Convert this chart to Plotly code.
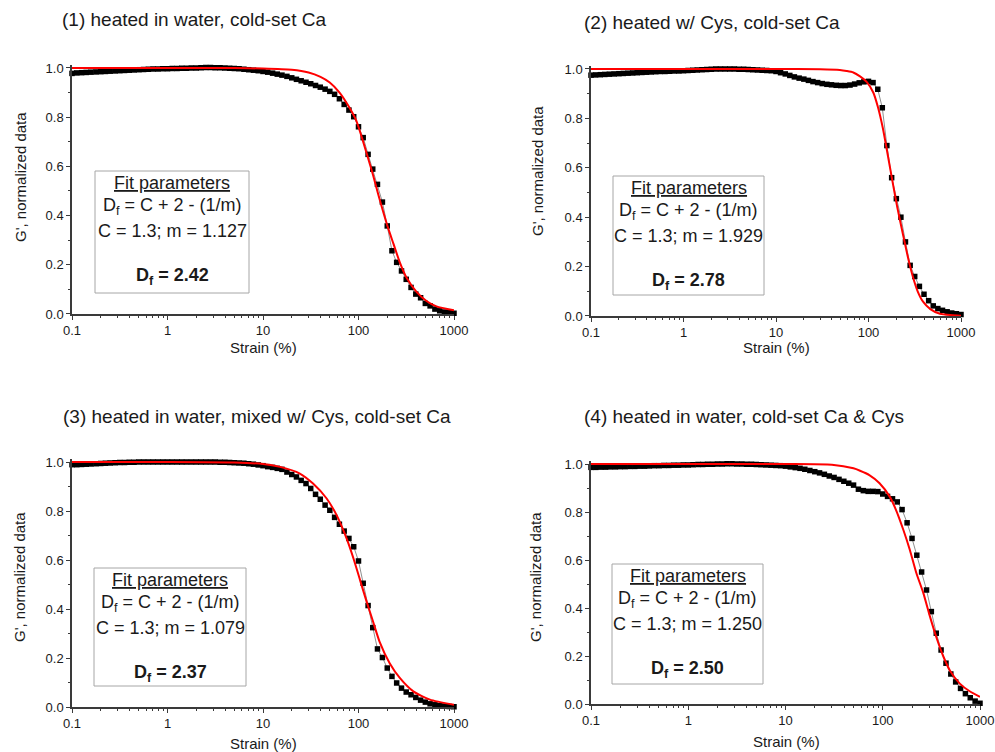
import plotly.graph_objects as go

# ---------------- data ----------------
# strain sweep points (%), 20 points per decade, shared by all four samples
strain = [
    0.1, 0.112, 0.126, 0.141, 0.158, 0.178, 0.2, 0.224, 0.251, 0.282,
    0.316, 0.355, 0.398, 0.447, 0.501, 0.562, 0.631, 0.708, 0.794, 0.891,
    1, 1.12, 1.26, 1.41, 1.58, 1.78, 2, 2.24, 2.51, 2.82,
    3.16, 3.55, 3.98, 4.47, 5.01, 5.62, 6.31, 7.08, 7.94, 8.91,
    10, 11.2, 12.6, 14.1, 15.8, 17.8, 20, 22.4, 25.1, 28.2,
    31.6, 35.5, 39.8, 44.7, 50.1, 56.2, 63.1, 70.8, 79.4, 89.1,
    100, 112, 126, 141, 158, 178, 200, 224, 251, 282,
    316, 355, 398, 447, 501, 562, 631, 708, 794, 891, 1000,
]

# normalized G' for each sample
g_water_ca = [
    0.978, 0.980, 0.981, 0.982, 0.983, 0.984, 0.985, 0.986, 0.987, 0.988,
    0.989, 0.990, 0.991, 0.992, 0.993, 0.994, 0.995, 0.996, 0.996, 0.997,
    0.997, 0.998, 0.998, 0.999, 0.999, 1.000, 1.000, 1.001, 1.002, 1.002,
    1.001, 1.001, 1.000, 0.999, 0.998, 0.997, 0.995, 0.993, 0.991, 0.989,
    0.986, 0.983, 0.979, 0.975, 0.971, 0.966, 0.960, 0.954, 0.948, 0.942,
    0.936, 0.929, 0.922, 0.914, 0.905, 0.893, 0.875, 0.852, 0.829, 0.802,
    0.761, 0.717, 0.649, 0.589, 0.527, 0.455, 0.358, 0.257, 0.210, 0.175,
    0.141, 0.108, 0.081, 0.066, 0.043, 0.033, 0.020, 0.013, 0.008, 0.005, 0.003,
]
g_cys_ca = [
    0.975, 0.976, 0.977, 0.978, 0.979, 0.980, 0.981, 0.982, 0.983, 0.984,
    0.985, 0.986, 0.987, 0.988, 0.989, 0.990, 0.990, 0.991, 0.992, 0.992,
    0.993, 0.994, 0.995, 0.996, 0.997, 0.998, 0.999, 1.000, 1.000, 1.000,
    1.000, 1.000, 0.999, 0.999, 0.998, 0.997, 0.996, 0.995, 0.994, 0.993,
    0.990, 0.985, 0.980, 0.974, 0.968, 0.963, 0.959, 0.954, 0.949, 0.945,
    0.941, 0.938, 0.936, 0.934, 0.933, 0.933, 0.935, 0.939, 0.944, 0.948,
    0.950, 0.945, 0.918, 0.843, 0.690, 0.560, 0.475, 0.400, 0.300, 0.205,
    0.160, 0.120, 0.088, 0.062, 0.041, 0.030, 0.023, 0.017, 0.012, 0.009, 0.006,
]
g_mixed_cys = [
    0.989, 0.989, 0.990, 0.991, 0.992, 0.993, 0.994, 0.995, 0.996, 0.997,
    0.998, 0.998, 0.999, 0.999, 1.000, 1.000, 1.000, 1.000, 1.000, 1.000,
    1.000, 1.000, 1.000, 1.000, 1.000, 1.000, 1.000, 1.000, 1.000, 1.000,
    1.000, 0.999, 0.999, 0.998, 0.997, 0.996, 0.995, 0.993, 0.991, 0.988,
    0.985, 0.981, 0.978, 0.974, 0.970, 0.959, 0.949, 0.939, 0.925, 0.912,
    0.892, 0.868, 0.848, 0.824, 0.803, 0.774, 0.746, 0.718, 0.688, 0.654,
    0.596, 0.505, 0.414, 0.324, 0.237, 0.202, 0.159, 0.125, 0.098, 0.077,
    0.061, 0.050, 0.039, 0.028, 0.020, 0.013, 0.009, 0.006, 0.004, 0.002, 0.001,
]
g_ca_cys = [
    0.986, 0.986, 0.987, 0.987, 0.988, 0.988, 0.989, 0.989, 0.990, 0.990,
    0.991, 0.991, 0.992, 0.993, 0.993, 0.994, 0.994, 0.995, 0.995, 0.996,
    0.996, 0.997, 0.998, 0.998, 0.999, 0.999, 1.000, 1.000, 1.001, 1.001,
    1.000, 1.000, 0.999, 0.999, 0.998, 0.997, 0.996, 0.995, 0.994, 0.993,
    0.991, 0.988, 0.985, 0.982, 0.978, 0.973, 0.968, 0.963, 0.957, 0.950,
    0.944, 0.936, 0.928, 0.920, 0.912, 0.895, 0.889, 0.886, 0.886, 0.885,
    0.875, 0.865, 0.855, 0.842, 0.810, 0.755, 0.690, 0.620, 0.550, 0.475,
    0.385, 0.295, 0.225, 0.170, 0.125, 0.092, 0.065, 0.043, 0.026, 0.012, 0.003,
]

# fitted curves (strain %, normalized G')
fit_strain_1 = [0.1, 1, 5, 10, 20, 30, 40, 50, 63, 80, 95, 110, 125, 142, 160,
                181, 204, 232, 270, 319, 405, 515, 655, 1000]
fit_g_1 = [1.0, 1.0, 0.9995, 0.998, 0.993, 0.982, 0.964, 0.941, 0.901, 0.840,
           0.785, 0.710, 0.638, 0.565, 0.490, 0.417, 0.350, 0.286, 0.211, 0.147,
           0.090, 0.053, 0.031, 0.015]

fit_strain_2 = [0.1, 1, 10, 30, 49, 58, 68.5, 81, 96, 112.6, 126, 143, 161, 181,
                204, 236, 268, 303, 340, 387, 466, 593, 1000]
fit_g_2 = [1.0, 1.0, 1.0, 0.999, 0.996, 0.992, 0.986, 0.970, 0.947, 0.905, 0.848,
           0.760, 0.655, 0.548, 0.443, 0.330, 0.235, 0.157, 0.100, 0.059, 0.028,
           0.009, 0.001]

fit_strain_3 = [0.1, 1, 5, 10, 15.1, 24.3, 33.4, 46.4, 59, 75, 88.6, 103.8, 121.6,
                142, 166, 212, 272, 375, 560, 1000]
fit_g_3 = [1.0, 1.0, 0.998, 0.992, 0.980, 0.953, 0.912, 0.851, 0.783, 0.688, 0.606,
           0.518, 0.430, 0.349, 0.267, 0.179, 0.118, 0.064, 0.030, 0.009]

fit_strain_4 = [0.1, 1, 10, 30, 50, 58.4, 72.8, 92.7, 118, 137, 163, 190, 222,
                262, 306, 358, 418, 490, 620, 790, 1000]
fit_g_4 = [1.0, 1.0, 1.0, 0.997, 0.982, 0.972, 0.954, 0.920, 0.864, 0.808, 0.725,
           0.642, 0.545, 0.461, 0.364, 0.275, 0.200, 0.140, 0.085, 0.052, 0.030]

titles = [
    "(1) heated in water, cold-set Ca",
    "(2) heated w/ Cys, cold-set Ca",
    "(3) heated in water, mixed w/ Cys, cold-set Ca",
    "(4) heated in water, cold-set Ca & Cys",
]
m_values = ["1.127", "1.929", "1.079", "1.250"]
df_values = ["2.42", "2.78", "2.37", "2.50"]

x_tick_vals = [0.1, 1, 10, 100, 1000]
x_tick_text = ["0.1", "1", "10", "100", "1000"]
y_tick_vals = [0.0, 0.2, 0.4, 0.6, 0.8, 1.0]

# ---------------- layout helpers ----------------
W, H = 995, 752
FONT = "Liberation Sans, Arial, Helvetica, sans-serif"
TXT = "#1a1a1a"
AX = "#3a3a3a"
Y_TOP = 1.012


def fx(px):
    return px / W


def fy(py):
    return 1 - py / H


# plot frames in pixels: left, right (x=0.1..1000), y pixel of 1.0 and of 0.0
frames = [
    dict(l=72, r=454, t=68, b=314),
    dict(l=591, r=961, t=69, b=316),
    dict(l=72, r=454, t=462, b=707),
    dict(l=591, r=980, t=464, b=704),
]
# fit-parameter boxes in pixels
boxes = [
    dict(l=95, r=249, t=171, b=293),
    dict(l=613, r=764, t=176, b=295),
    dict(l=94, r=246, t=568, b=686),
    dict(l=612, r=763, t=564, b=684),
]
title_pos = [(60, 20), (582, 22), (61, 416), (582, 416)]
ytitle_pos = [(20, 177), (537, 171), (19, 577), (535, 577)]
xtitle_pos = [(263, 347), (776, 347), (263, 743), (786, 741)]

series = [g_water_ca, g_cys_ca, g_mixed_cys, g_ca_cys]
fits = [(fit_strain_1, fit_g_1), (fit_strain_2, fit_g_2),
        (fit_strain_3, fit_g_3), (fit_strain_4, fit_g_4)]

fig = go.Figure()
layout = dict(
    width=W, height=H,
    margin=dict(l=0, r=0, t=0, b=0, autoexpand=False),
    paper_bgcolor="white", plot_bgcolor="white",
    showlegend=False,
    font=dict(family=FONT, color=TXT, size=13),
)
annotations = []
shapes = []

for i in range(4):
    n = "" if i == 0 else str(i + 1)
    fr = frames[i]
    top_px = fr["t"] - (Y_TOP - 1.0) * (fr["b"] - fr["t"])
    xa, ya = "xaxis" + n, "yaxis" + n
    layout[xa] = dict(
        type="log", range=[-1, 3], automargin=False,
        domain=[fx(fr["l"]), fx(fr["r"])],
        anchor="y" + n,
        tickvals=x_tick_vals, ticktext=x_tick_text,
        ticks="outside", ticklen=4, tickwidth=1, tickcolor=AX,
        minor=dict(ticks="outside", ticklen=2, tickcolor=AX, dtick="D1", showgrid=False),
        showline=True, linecolor=AX, linewidth=1.5,
        showgrid=False, zeroline=False,
        tickfont=dict(family=FONT, size=13, color=TXT),
    )
    layout[ya] = dict(
        range=[0, Y_TOP], automargin=False,
        domain=[fy(fr["b"]), fy(top_px)],
        anchor="x" + n,
        tickvals=y_tick_vals, tickformat=".1f",
        ticks="outside", ticklen=4, tickwidth=1, tickcolor=AX,
        minor=dict(ticks="outside", ticklen=2, tickcolor=AX, dtick=0.1, showgrid=False),
        showline=True, linecolor=AX, linewidth=1.5,
        showgrid=False, zeroline=False,
        tickfont=dict(family=FONT, size=13, color=TXT),
    )

    fig.add_trace(go.Scatter(
        x=strain, y=series[i], mode="lines+markers",
        line=dict(color="#8f8f8f", width=1),
        marker=dict(symbol="square", size=5.5, color="black", line=dict(width=0)),
        xaxis="x" + n, yaxis="y" + n, cliponaxis=False, hoverinfo="skip",
    ))
    fig.add_trace(go.Scatter(
        x=fits[i][0], y=fits[i][1], mode="lines",
        line=dict(color="#ff0000", width=2, shape="spline", smoothing=0.6),
        xaxis="x" + n, yaxis="y" + n, hoverinfo="skip",
    ))

    # panel title
    tx, ty = title_pos[i]
    annotations.append(dict(
        text=titles[i], x=fx(tx), y=fy(ty), xref="paper", yref="paper",
        xanchor="left", yanchor="middle", showarrow=False,
        font=dict(family=FONT, size=19, color=TXT),
    ))
    # axis titles
    yx, yy = ytitle_pos[i]
    annotations.append(dict(
        text="G', normalized data", x=fx(yx), y=fy(yy), xref="paper", yref="paper",
        xanchor="center", yanchor="middle", textangle=-90, showarrow=False,
        font=dict(family=FONT, size=15, color=TXT),
    ))
    xx, xy = xtitle_pos[i]
    annotations.append(dict(
        text="Strain (%)", x=fx(xx), y=fy(xy), xref="paper", yref="paper",
        xanchor="center", yanchor="middle", showarrow=False,
        font=dict(family=FONT, size=15, color=TXT),
    ))

    # fit parameter box
    bx = boxes[i]
    shapes.append(dict(
        type="rect", xref="paper", yref="paper",
        x0=fx(bx["l"]), x1=fx(bx["r"]), y0=fy(bx["b"]), y1=fy(bx["t"]),
        line=dict(color="#a6a6a6", width=1), fillcolor="rgba(0,0,0,0)",
    ))
    cx = (bx["l"] + bx["r"]) / 2
    lines = [
        ("<u>Fit parameters</u>", 12.3),
        ("D<sub>f</sub> = C + 2 - (1/m)", 35.5),
        ("C = 1.3; m = " + m_values[i], 59.8),
        ("<b>D<sub>f</sub> = " + df_values[i] + "</b>", 105.5),
    ]
    for text, off in lines:
        annotations.append(dict(
            text=text, x=fx(cx), y=fy(bx["t"] + off), xref="paper", yref="paper",
            xanchor="center", yanchor="middle", showarrow=False,
            font=dict(family=FONT, size=18, color=TXT),
        ))

layout["annotations"] = annotations
layout["shapes"] = shapes
fig.update_layout(**layout)

fig.write_html("out.html")
